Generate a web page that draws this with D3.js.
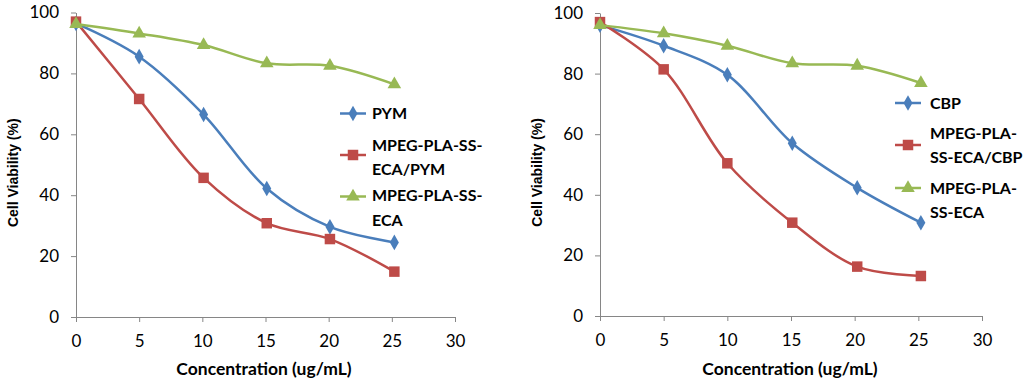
<!DOCTYPE html>
<html>
<head>
<meta charset="utf-8">
<script src="https://cdn.jsdelivr.net/npm/d3@7"></script>
<style>
  body { margin: 0; background: #fff; }
  svg { display: block; }
  .tick text { font-family: Lato, "Open Sans", sans-serif; font-size: 17px; fill: #000; }
</style>
</head>
<body>
<svg id="chart" width="1024" height="384"></svg>
<script>
// --- data ---
const concLeft = [0, 5, 10.1, 15.1, 20.1, 25.2];
const pymFree = [96.4, 85.5, 66.5, 42.2, 29.6, 24.5];
const pymLoaded = [97, 71.6, 45.7, 30.8, 25.6, 14.9];
const carrierLeft = [96.2, 93.1, 89.3, 83.3, 82.5, 76.4];

const concRight = [0, 5, 10, 15.1, 20.2, 25.2];
const cbpFree = [96, 89.2, 79.6, 57, 42.3, 30.8];
const cbpLoaded = [97, 81.4, 50.4, 30.8, 16.3, 13.2];
const carrierRight = [96, 93.3, 89.2, 83.4, 82.6, 76.9];

const xTicks = [0, 5, 10, 15, 20, 25, 30];
const yTicks = [0, 20, 40, 60, 80, 100];

const colors = { blue: "#4a7ebb", red: "#be4b48", green: "#98b954" };

const panels = [
    {
        left: 76, right: 455, top: 12.5, bottom: 317,
        x: concLeft,
        series: [
            { name: ["PYM"], values: pymFree, color: colors.blue, shape: "diamond" },
            { name: ["MPEG-PLA-SS-", "ECA/PYM"], values: pymLoaded, color: colors.red, shape: "square" },
            { name: ["MPEG-PLA-SS-", "ECA"], values: carrierLeft, color: colors.green, shape: "triangle" }
        ],
        legend: { x: 340, textX: 372, rows: [[113.5], [145, 169.5], [195.5, 220]], sym: [113.5, 155, 196.5] },
        yTitleX: 13, xTitleX: 264
    },
    {
        left: 600, right: 982, top: 13, bottom: 316,
        x: concRight,
        series: [
            { name: ["CBP"], values: cbpFree, color: colors.blue, shape: "diamond" },
            { name: ["MPEG-PLA-", "SS-ECA/CBP"], values: cbpLoaded, color: colors.red, shape: "square" },
            { name: ["MPEG-PLA-", "SS-ECA"], values: carrierRight, color: colors.green, shape: "triangle" }
        ],
        legend: { x: 895, textX: 930, rows: [[103], [133.5, 157], [188, 212.5]], sym: [103, 145, 188] },
        yTitleX: 537, xTitleX: 790
    }
];

const svg = d3.select("#chart");

function marker(g, shape, color) {
    let sym;
    if (shape === "diamond") sym = d3.symbol(d3.symbolDiamond, 70);
    else if (shape === "square") sym = d3.symbol(d3.symbolSquare, 110);
    else sym = d3.symbol(d3.symbolTriangle, 80);
    g.append("path").attr("d", sym()).attr("fill", color);
}

panels.forEach(p => {
    const x = d3.scaleLinear().domain([0, 30]).range([p.left, p.right]);
    const y = d3.scaleLinear().domain([0, 100]).range([p.bottom, p.top]);

    // axes
    const xAxis = svg.append("g")
        .attr("transform", `translate(0,${p.bottom})`)
        .call(d3.axisBottom(x).tickValues(xTicks).tickSize(5).tickPadding(13).tickSizeOuter(0));
    const yAxis = svg.append("g")
        .attr("transform", `translate(${p.left},0)`)
        .call(d3.axisLeft(y).tickValues(yTicks).tickSize(5).tickPadding(12).tickSizeOuter(0));
    [xAxis, yAxis].forEach(a => {
        a.select(".domain").attr("stroke", "#868686");
        a.selectAll(".tick line").attr("stroke", "#868686");
    });

    // axis titles
    svg.append("text")
        .attr("transform", `translate(${p.yTitleX},${(p.top + p.bottom) / 2 + 8}) rotate(-90)`)
        .attr("text-anchor", "middle")
        .attr("dy", "0.35em")
        .style("font-family", "'Liberation Sans', Arial, sans-serif")
        .style("font-size", "14px")
        .style("font-weight", "bold")
        .text("Cell Viability (%)");
    svg.append("text")
        .attr("x", p.xTitleX)
        .attr("y", 375)
        .attr("text-anchor", "middle")
        .style("font-family", "Lato, sans-serif")
        .style("font-size", "17.5px")
        .style("font-weight", "bold")
        .text("Concentration (ug/mL)");

    // lines + markers
    const line = d3.line()
        .x(d => x(d[0]))
        .y(d => y(d[1]))
        .curve(d3.curveCatmullRom.alpha(0.5));

    p.series.forEach(s => {
        const pts = p.x.map((c, i) => [c, s.values[i]]);
        svg.append("path")
            .datum(pts)
            .attr("d", line)
            .attr("fill", "none")
            .attr("stroke", s.color)
            .attr("stroke-width", 2.5);
        pts.forEach(d => {
            const g = svg.append("g").attr("transform", `translate(${x(d[0])},${y(d[1])})`);
            marker(g, s.shape, s.color);
        });
    });

    // legend
    p.series.forEach((s, i) => {
        const ly = p.legend.sym[i];
        svg.append("line")
            .attr("x1", p.legend.x).attr("x2", p.legend.x + 26)
            .attr("y1", ly).attr("y2", ly)
            .attr("stroke", s.color).attr("stroke-width", 2.5);
        const g = svg.append("g").attr("transform", `translate(${p.legend.x + 13},${ly})`);
        marker(g, s.shape, s.color);
        s.name.forEach((t, j) => {
            svg.append("text")
                .attr("x", p.legend.textX)
                .attr("y", p.legend.rows[i][j])
                .attr("dy", "0.36em")
                .style("font-family", "Lato, sans-serif")
                .style("font-size", "16px")
                .style("font-weight", "bold")
                .text(t);
        });
    });
});
</script>
</body>
</html>
